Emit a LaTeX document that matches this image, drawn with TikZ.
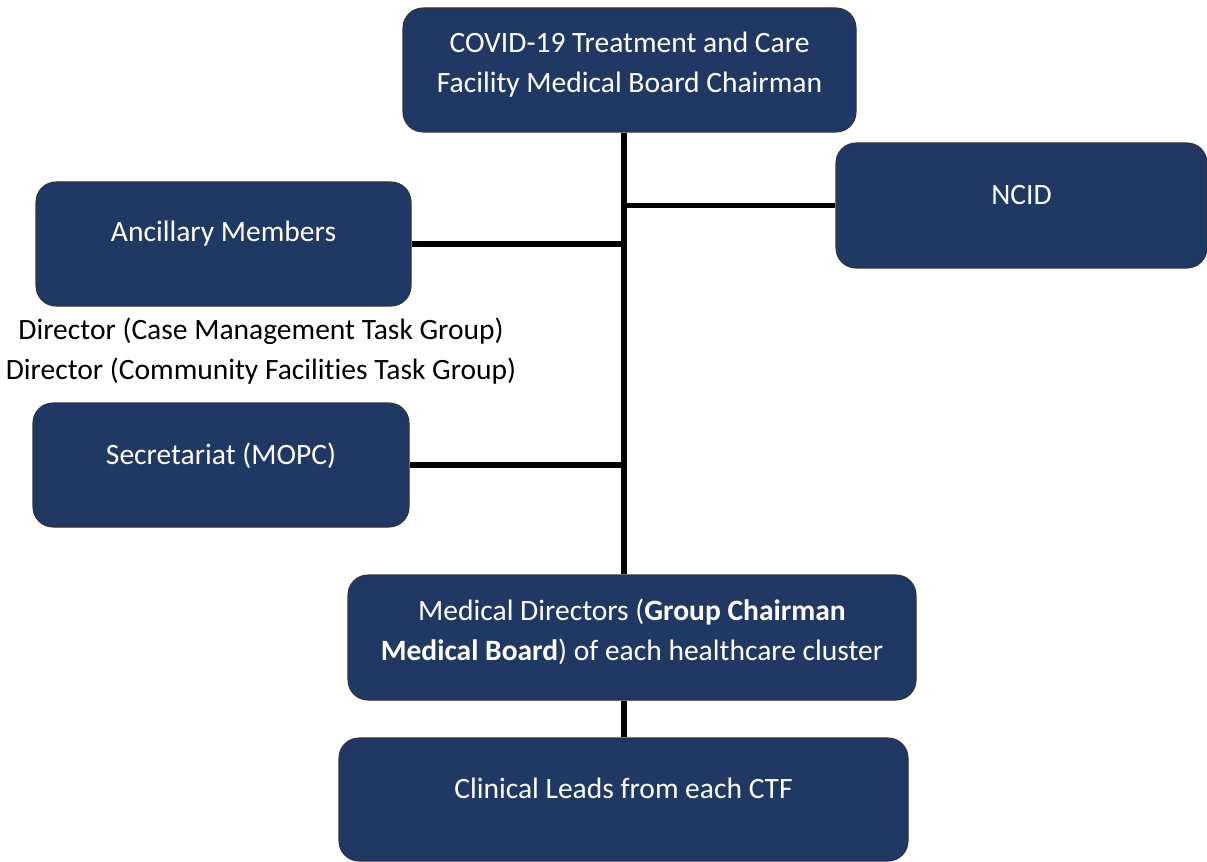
\documentclass[tikz,border=0pt]{standalone}
\usepackage{fontspec}
\setmainfont[Ligatures=NoCommon]{Carlito}
\definecolor{boardblue}{HTML}{203864}
\tikzset{
	board/.style={draw=black!80, fill=boardblue, rounded corners=0.4cm, line width=0.6pt},
	boardtext/.style={text=white, align=center, font=\fontsize{16.8}{22.6}\selectfont},
	link/.style={line width=3pt}
}

\begin{document}
\begin{tikzpicture}

\useasboundingbox (0,0) rectangle (24.14,-17.24);

% Boxes:

\node[board, minimum width=9.06cm, minimum height=2.48cm] (chair) at (12.59,-1.40) {};
\node[board, minimum width=7.42cm, minimum height=2.50cm] (ncid) at (20.43,-4.11) {};
\node[board, minimum width=7.50cm, minimum height=2.48cm] (ancillary) at (4.47,-4.88) {};
\node[board, minimum width=7.52cm, minimum height=2.48cm] (secretariat) at (4.42,-9.30) {};
\node[board, minimum width=11.36cm, minimum height=2.50cm] (meddir) at (12.64,-12.75) {};
\node[board, minimum width=11.38cm, minimum height=2.46cm] (clinical) at (12.47,-15.99) {};

\node[boardtext] (chairtext) at ([yshift=0.11cm]chair.center) {COVID-19 Treatment and Care\\Facility Medical Board Chairman};
\node[boardtext] (ncidtext) at ([yshift=0.21cm]ncid.center) {NCID};
\node[boardtext] (ancillarytext) at ([yshift=0.20cm]ancillary.center) {Ancillary Members};
\node[boardtext] (secretariattext) at ([yshift=0.18cm]secretariat.center) {Secretariat (MOPC)};
\node[boardtext] (meddirtext) at ([yshift=0.12cm]meddir.center) {Medical Directors (\textbf{Group Chairman}\\\textbf{Medical Board}) of each healthcare cluster};
\node[boardtext] (clinicaltext) at ([yshift=0.23cm]clinical.center) {Clinical Leads from each CTF};

\node[align=center, font=\fontsize{16.8}{22.8}\selectfont] (directors) at (5.22,-7.02) {Director (Case Management Task Group)\\Director (Community Facilities Task Group)};

% Connectors:

\coordinate (trunk) at (12.48,0);
\draw[link] (chair.south -| trunk) -- (meddir.north -| trunk);
\draw[link] (meddir.south -| trunk) -- (clinical.north -| trunk);
\draw[link] (ncid.west) -- (ncid.west -| trunk);
\draw[link] (ancillary.east) -- (ancillary.east -| trunk);
\draw[link] (secretariat.east) -- (secretariat.east -| trunk);

\end{tikzpicture}
\end{document}
